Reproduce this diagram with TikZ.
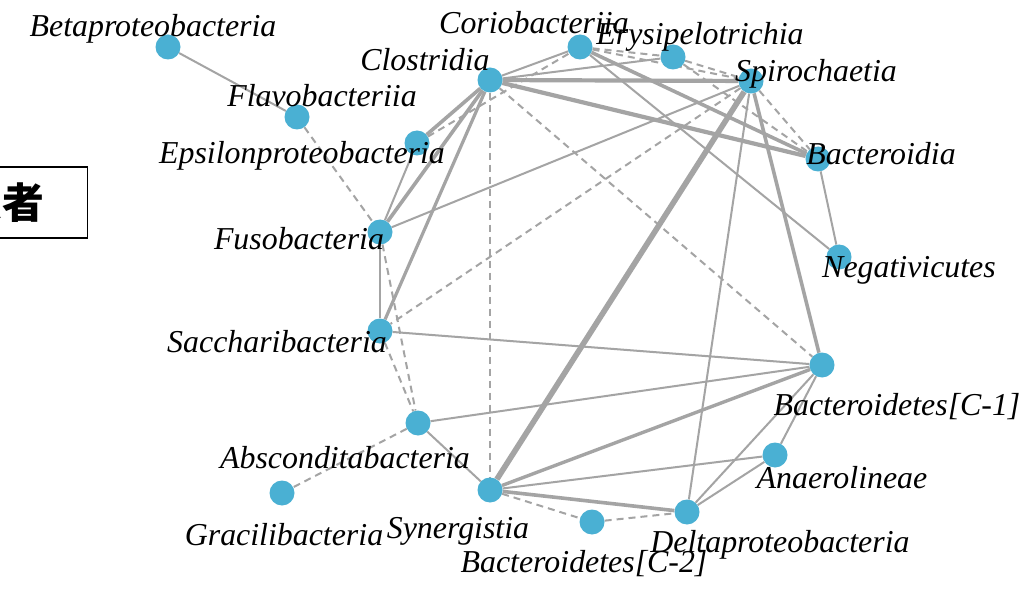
\documentclass[tikz,border=0pt]{standalone}
\usepackage{fontspec}
\setmainfont{Liberation Serif}
\newfontfamily\cjkfont{Noto Sans CJK JP}
\usetikzlibrary{backgrounds}
\definecolor{nodeblue}{RGB}{74,176,211}
\definecolor{edgegray}{RGB}{164,164,164}
\tikzset{
  taxon/.style={circle, fill=nodeblue, draw=none, minimum size=25bp, inner sep=0pt},
  lbl/.style={font=\fontsize{32}{32}\selectfont\itshape, anchor=base, inner sep=0pt},
  thinedge/.style={draw=edgegray, line width=2bp},
  dashedge/.style={draw=edgegray, line width=2bp, dash pattern=on 7bp off 5bp},
  wedge/.style={draw=edgegray, line width=#1},
  groupbox/.style={draw=black, line width=1.4bp, fill=white, font=\cjkfont\bfseries\fontsize{42}{42}\selectfont,
    inner xsep=43bp, minimum height=71bp, anchor=east}
}
\begin{document}
\begin{tikzpicture}[x=1bp,y=-1bp]
\useasboundingbox (0,0) rectangle (1029,591);
\clip (0,0) rectangle (1029,591);
% nodes
\node[taxon] (beta)  at (168,47) {};
\node[taxon] (flavo) at (297,117) {};
\node[taxon] (eps)   at (417,143) {};
\node[taxon] (clos)  at (490,80) {};
\node[taxon] (corio) at (580,47) {};
\node[taxon] (erys)  at (673,57) {};
\node[taxon] (spiro) at (751,81) {};
\node[taxon] (bactd) at (818,159) {};
\node[taxon] (neg)   at (839,257) {};
\node[taxon] (cone)  at (822,365) {};
\node[taxon] (anaer) at (775,455) {};
\node[taxon] (delta) at (687,512) {};
\node[taxon] (ctwo)  at (592,522) {};
\node[taxon] (syn)   at (490,490) {};
\node[taxon] (absc)  at (418,423) {};
\node[taxon] (grac)  at (282,493) {};
\node[taxon] (sacc)  at (380,331) {};
\node[taxon] (fuso)  at (380,232) {};
\begin{pgfonlayer}{background}
\fill[white] (0,0) rectangle (1029,591);
% thin solid edges
\draw[thinedge] (beta) -- (flavo);
\draw[thinedge] (eps) -- (fuso);
\draw[thinedge] (clos) -- (erys);
\draw[thinedge] (clos) -- (corio);
\draw[thinedge] (corio) -- (neg);
\draw[thinedge] (spiro) -- (fuso);
\draw[thinedge] (spiro) -- (delta);
\draw[thinedge] (bactd) -- (neg);
\draw[thinedge] (fuso) -- (sacc);
\draw[thinedge] (sacc) -- (cone);
\draw[thinedge] (absc) -- (cone);
\draw[thinedge] (absc) -- (syn);
\draw[thinedge] (syn) -- (anaer);
\draw[thinedge] (delta) -- (cone);
\draw[thinedge] (delta) -- (anaer);
\draw[thinedge] (anaer) -- (cone);
% dashed edges
\draw[dashedge] (flavo) -- (fuso);
\draw[dashedge] (eps) -- (corio);
\draw[dashedge] (clos) -- (syn);
\draw[dashedge] (clos) -- (cone);
\draw[dashedge] (corio) -- (erys);
\draw[dashedge] (corio) -- (spiro);
\draw[dashedge] (erys) -- (spiro);
\draw[dashedge] (erys) -- (bactd);
\draw[dashedge] (spiro) -- (bactd);
\draw[dashedge] (spiro) -- (sacc);
\draw[dashedge] (fuso) -- (absc);
\draw[dashedge] (sacc) -- (absc);
\draw[dashedge] (absc) -- (grac);
\draw[dashedge] (syn) -- (ctwo);
\draw[dashedge] (ctwo) -- (delta);
% thick solid edges
\draw[wedge=3.6bp] (clos) -- (eps);
\draw[wedge=3.6bp] (clos) -- (fuso);
\draw[wedge=3.2bp] (clos) -- (sacc);
\draw[wedge=4.2bp] (clos) -- (spiro);
\draw[wedge=4.2bp] (clos) -- (bactd);
\draw[wedge=3.6bp] (corio) -- (bactd);
\draw[wedge=5.6bp] (spiro) -- (syn);
\draw[wedge=3.6bp] (spiro) -- (cone);
\draw[wedge=3.4bp] (syn) -- (cone);
\draw[wedge=3.6bp] (syn) -- (delta);
\end{pgfonlayer}
% labels
\node[lbl] (lbeta)  at (153,37)  {Betaproteobacteria};
\node[lbl] (lflavo) at (322,107) {Flavobacteriia};
\node[lbl] (leps)   at (302,164) {Epsilonproteobacteria};
\node[lbl] (lclos)  at (425,71)  {Clostridia};
\node[lbl] (lcorio) at (534,34)  {Coriobacteriia};
\node[lbl] (lerys)  at (700,45)  {Erysipelotrichia};
\node[lbl] (lspiro) at (816,82)  {Spirochaetia};
\node[lbl] (lbactd) at (881,165) {Bacteroidia};
\node[lbl] (lneg)   at (909,278) {Negativicutes};
\node[lbl] (lcone)  at (897,415) {Bacteroidetes[C-1]};
\node[lbl] (lanaer) at (842,488) {Anaerolineae};
\node[lbl] (ldelta) at (780,552) {Deltaproteobacteria};
\node[lbl] (lctwo)  at (584,572) {Bacteroidetes[C-2]};
\node[lbl] (lsyn)   at (458,538) {Synergistia};
\node[lbl] (lgrac)  at (284,545) {Gracilibacteria};
\node[lbl] (labsc)  at (345,468) {Absconditabacteria};
\node[lbl] (lsacc)  at (277,352) {Saccharibacteria};
\node[lbl] (lfuso)  at (299,250) {Fusobacteria};
% group box
\node[groupbox] (group) at (88,202.5) {患者};
\end{tikzpicture}
\end{document}
